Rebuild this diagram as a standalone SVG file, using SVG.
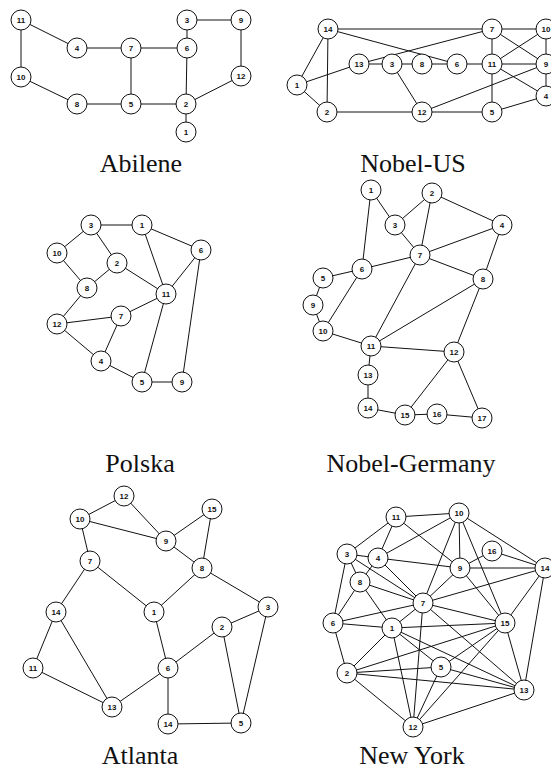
<svg xmlns="http://www.w3.org/2000/svg" width="551" height="772" viewBox="0 0 551 772">
<style>
.e line{stroke:#111;stroke-width:1}
.n circle{fill:#fff;stroke:#111;stroke-width:1}
.n text{font-family:"Liberation Sans",Arial,sans-serif;font-weight:bold;font-size:8px;text-anchor:middle;fill:#111}
.t{font-family:"Liberation Serif","Times New Roman",serif;font-size:26px;text-anchor:middle;fill:#111}
</style>
<rect width="551" height="772" fill="#fff"/>

<!-- Abilene -->
<g id="abilene-edges" class="e">
<line x1="21" y1="20" x2="77" y2="48"/>
<line x1="21" y1="20" x2="21" y2="77"/>
<line x1="21" y1="77" x2="77" y2="104"/>
<line x1="77" y1="104" x2="131" y2="104"/>
<line x1="77" y1="48" x2="131" y2="48"/>
<line x1="131" y1="48" x2="187" y2="48"/>
<line x1="131" y1="48" x2="131" y2="104"/>
<line x1="131" y1="104" x2="186" y2="104"/>
<line x1="187" y1="48" x2="186" y2="104"/>
<line x1="187" y1="48" x2="187" y2="20"/>
<line x1="187" y1="20" x2="241" y2="20"/>
<line x1="241" y1="20" x2="241" y2="76"/>
<line x1="241" y1="76" x2="186" y2="104"/>
<line x1="186" y1="104" x2="186" y2="132"/>
</g>
<g id="abilene-11" class="n" transform="translate(21,20)"><circle r="10"/><text y="3">11</text></g>
<g id="abilene-4" class="n" transform="translate(77,48)"><circle r="10"/><text y="3">4</text></g>
<g id="abilene-7" class="n" transform="translate(131,48)"><circle r="10"/><text y="3">7</text></g>
<g id="abilene-6" class="n" transform="translate(187,48)"><circle r="10"/><text y="3">6</text></g>
<g id="abilene-3" class="n" transform="translate(187,20)"><circle r="10"/><text y="3">3</text></g>
<g id="abilene-9" class="n" transform="translate(241,20)"><circle r="10"/><text y="3">9</text></g>
<g id="abilene-10" class="n" transform="translate(21,77)"><circle r="10"/><text y="3">10</text></g>
<g id="abilene-12" class="n" transform="translate(241,76)"><circle r="10"/><text y="3">12</text></g>
<g id="abilene-8" class="n" transform="translate(77,104)"><circle r="10"/><text y="3">8</text></g>
<g id="abilene-5" class="n" transform="translate(131,104)"><circle r="10"/><text y="3">5</text></g>
<g id="abilene-2" class="n" transform="translate(186,104)"><circle r="10"/><text y="3">2</text></g>
<g id="abilene-1" class="n" transform="translate(186,132)"><circle r="10"/><text y="3">1</text></g>
<text class="t" x="141" y="172">Abilene</text>

<!-- Nobel-US -->
<g id="nobelus-edges" class="e">
<line x1="328" y1="29" x2="492" y2="29"/>
<line x1="328" y1="29" x2="457" y2="64"/>
<line x1="328" y1="29" x2="297" y2="85"/>
<line x1="328" y1="29" x2="327" y2="112"/>
<line x1="297" y1="85" x2="327" y2="112"/>
<line x1="297" y1="85" x2="359" y2="64"/>
<line x1="359" y1="64" x2="492" y2="29"/>
<line x1="359" y1="64" x2="392" y2="64"/>
<line x1="392" y1="64" x2="422" y2="64"/>
<line x1="422" y1="64" x2="457" y2="64"/>
<line x1="457" y1="64" x2="492" y2="64"/>
<line x1="392" y1="64" x2="422" y2="112"/>
<line x1="327" y1="112" x2="422" y2="112"/>
<line x1="422" y1="112" x2="546" y2="64"/>
<line x1="422" y1="112" x2="492" y2="112"/>
<line x1="492" y1="112" x2="546" y2="96"/>
<line x1="492" y1="112" x2="492" y2="64"/>
<line x1="492" y1="29" x2="492" y2="64"/>
<line x1="492" y1="29" x2="546" y2="29"/>
<line x1="492" y1="29" x2="546" y2="64"/>
<line x1="492" y1="64" x2="546" y2="29"/>
<line x1="492" y1="64" x2="546" y2="64"/>
<line x1="492" y1="64" x2="546" y2="96"/>
<line x1="546" y1="29" x2="546" y2="64"/>
<line x1="546" y1="64" x2="546" y2="96"/>
</g>
<g id="nobelus-14" class="n" transform="translate(328,29)"><circle r="10"/><text y="3">14</text></g>
<g id="nobelus-7" class="n" transform="translate(492,29)"><circle r="10"/><text y="3">7</text></g>
<g id="nobelus-10" class="n" transform="translate(546,29)"><circle r="10"/><text y="3">10</text></g>
<g id="nobelus-13" class="n" transform="translate(359,64)"><circle r="10"/><text y="3">13</text></g>
<g id="nobelus-3" class="n" transform="translate(392,64)"><circle r="10"/><text y="3">3</text></g>
<g id="nobelus-8" class="n" transform="translate(422,64)"><circle r="10"/><text y="3">8</text></g>
<g id="nobelus-6" class="n" transform="translate(457,64)"><circle r="10"/><text y="3">6</text></g>
<g id="nobelus-11" class="n" transform="translate(492,64)"><circle r="10"/><text y="3">11</text></g>
<g id="nobelus-9" class="n" transform="translate(546,64)"><circle r="10"/><text y="3">9</text></g>
<g id="nobelus-1" class="n" transform="translate(297,85)"><circle r="10"/><text y="3">1</text></g>
<g id="nobelus-4" class="n" transform="translate(546,96)"><circle r="10"/><text y="3">4</text></g>
<g id="nobelus-2" class="n" transform="translate(327,112)"><circle r="10"/><text y="3">2</text></g>
<g id="nobelus-12" class="n" transform="translate(422,112)"><circle r="10"/><text y="3">12</text></g>
<g id="nobelus-5" class="n" transform="translate(492,112)"><circle r="10"/><text y="3">5</text></g>
<text class="t" x="413" y="172">Nobel-US</text>

<!-- Polska -->
<g id="polska-edges" class="e">
<line x1="91" y1="225" x2="142" y2="225"/>
<line x1="91" y1="225" x2="57" y2="253"/>
<line x1="91" y1="225" x2="117" y2="263"/>
<line x1="142" y1="225" x2="201" y2="250"/>
<line x1="142" y1="225" x2="166" y2="294"/>
<line x1="57" y1="253" x2="87" y2="288"/>
<line x1="117" y1="263" x2="87" y2="288"/>
<line x1="117" y1="263" x2="166" y2="294"/>
<line x1="201" y1="250" x2="166" y2="294"/>
<line x1="201" y1="250" x2="182" y2="382"/>
<line x1="87" y1="288" x2="57" y2="324"/>
<line x1="57" y1="324" x2="121" y2="316"/>
<line x1="121" y1="316" x2="166" y2="294"/>
<line x1="121" y1="316" x2="101" y2="361"/>
<line x1="57" y1="324" x2="101" y2="361"/>
<line x1="101" y1="361" x2="142" y2="382"/>
<line x1="142" y1="382" x2="182" y2="382"/>
<line x1="166" y1="294" x2="142" y2="382"/>
</g>
<g id="polska-3" class="n" transform="translate(91,225)"><circle r="10"/><text y="3">3</text></g>
<g id="polska-1" class="n" transform="translate(142,225)"><circle r="10"/><text y="3">1</text></g>
<g id="polska-10" class="n" transform="translate(57,253)"><circle r="10"/><text y="3">10</text></g>
<g id="polska-6" class="n" transform="translate(201,250)"><circle r="10"/><text y="3">6</text></g>
<g id="polska-2" class="n" transform="translate(117,263)"><circle r="10"/><text y="3">2</text></g>
<g id="polska-8" class="n" transform="translate(87,288)"><circle r="10"/><text y="3">8</text></g>
<g id="polska-11" class="n" transform="translate(166,294)"><circle r="10"/><text y="3">11</text></g>
<g id="polska-7" class="n" transform="translate(121,316)"><circle r="10"/><text y="3">7</text></g>
<g id="polska-12" class="n" transform="translate(57,324)"><circle r="10"/><text y="3">12</text></g>
<g id="polska-4" class="n" transform="translate(101,361)"><circle r="10"/><text y="3">4</text></g>
<g id="polska-5" class="n" transform="translate(142,382)"><circle r="10"/><text y="3">5</text></g>
<g id="polska-9" class="n" transform="translate(182,382)"><circle r="10"/><text y="3">9</text></g>
<text class="t" x="140" y="472">Polska</text>

<!-- Nobel-Germany -->
<g id="nobelgermany-edges" class="e">
<line x1="371" y1="190" x2="395" y2="225"/>
<line x1="371" y1="190" x2="362" y2="269"/>
<line x1="432" y1="193" x2="395" y2="225"/>
<line x1="432" y1="193" x2="420" y2="255"/>
<line x1="432" y1="193" x2="502" y2="225"/>
<line x1="395" y1="225" x2="420" y2="255"/>
<line x1="502" y1="225" x2="420" y2="255"/>
<line x1="502" y1="225" x2="483" y2="279"/>
<line x1="420" y1="255" x2="362" y2="269"/>
<line x1="420" y1="255" x2="483" y2="279"/>
<line x1="420" y1="255" x2="371" y2="346"/>
<line x1="362" y1="269" x2="323" y2="278"/>
<line x1="362" y1="269" x2="323" y2="331"/>
<line x1="323" y1="278" x2="313" y2="305"/>
<line x1="313" y1="305" x2="323" y2="331"/>
<line x1="323" y1="331" x2="371" y2="346"/>
<line x1="371" y1="346" x2="483" y2="279"/>
<line x1="371" y1="346" x2="454" y2="352"/>
<line x1="371" y1="346" x2="368" y2="375"/>
<line x1="483" y1="279" x2="454" y2="352"/>
<line x1="454" y1="352" x2="405" y2="415"/>
<line x1="454" y1="352" x2="482" y2="418"/>
<line x1="368" y1="375" x2="368" y2="408"/>
<line x1="368" y1="408" x2="405" y2="415"/>
<line x1="405" y1="415" x2="437" y2="414"/>
<line x1="437" y1="414" x2="482" y2="418"/>
</g>
<g id="nobelgermany-1" class="n" transform="translate(371,190)"><circle r="10"/><text y="3">1</text></g>
<g id="nobelgermany-2" class="n" transform="translate(432,193)"><circle r="10"/><text y="3">2</text></g>
<g id="nobelgermany-3" class="n" transform="translate(395,225)"><circle r="10"/><text y="3">3</text></g>
<g id="nobelgermany-4" class="n" transform="translate(502,225)"><circle r="10"/><text y="3">4</text></g>
<g id="nobelgermany-7" class="n" transform="translate(420,255)"><circle r="10"/><text y="3">7</text></g>
<g id="nobelgermany-6" class="n" transform="translate(362,269)"><circle r="10"/><text y="3">6</text></g>
<g id="nobelgermany-5" class="n" transform="translate(323,278)"><circle r="10"/><text y="3">5</text></g>
<g id="nobelgermany-8" class="n" transform="translate(483,279)"><circle r="10"/><text y="3">8</text></g>
<g id="nobelgermany-9" class="n" transform="translate(313,305)"><circle r="10"/><text y="3">9</text></g>
<g id="nobelgermany-10" class="n" transform="translate(323,331)"><circle r="10"/><text y="3">10</text></g>
<g id="nobelgermany-11" class="n" transform="translate(371,346)"><circle r="10"/><text y="3">11</text></g>
<g id="nobelgermany-12" class="n" transform="translate(454,352)"><circle r="10"/><text y="3">12</text></g>
<g id="nobelgermany-13" class="n" transform="translate(368,375)"><circle r="10"/><text y="3">13</text></g>
<g id="nobelgermany-14" class="n" transform="translate(368,408)"><circle r="10"/><text y="3">14</text></g>
<g id="nobelgermany-15" class="n" transform="translate(405,415)"><circle r="10"/><text y="3">15</text></g>
<g id="nobelgermany-16" class="n" transform="translate(437,414)"><circle r="10"/><text y="3">16</text></g>
<g id="nobelgermany-17" class="n" transform="translate(482,418)"><circle r="10"/><text y="3">17</text></g>
<text class="t" x="411" y="472">Nobel-Germany</text>

<!-- Atlanta -->
<g id="atlanta-edges" class="e">
<line x1="124" y1="496" x2="80" y2="519"/>
<line x1="124" y1="496" x2="166" y2="541"/>
<line x1="80" y1="519" x2="166" y2="541"/>
<line x1="80" y1="519" x2="90" y2="561"/>
<line x1="212" y1="509" x2="166" y2="541"/>
<line x1="212" y1="509" x2="202" y2="568"/>
<line x1="166" y1="541" x2="202" y2="568"/>
<line x1="90" y1="561" x2="56" y2="612"/>
<line x1="90" y1="561" x2="154" y2="612"/>
<line x1="202" y1="568" x2="154" y2="612"/>
<line x1="202" y1="568" x2="268" y2="607"/>
<line x1="268" y1="607" x2="222" y2="627"/>
<line x1="268" y1="607" x2="241" y2="723"/>
<line x1="222" y1="627" x2="168" y2="668"/>
<line x1="222" y1="627" x2="241" y2="723"/>
<line x1="154" y1="612" x2="168" y2="668"/>
<line x1="56" y1="612" x2="33" y2="668"/>
<line x1="56" y1="612" x2="112" y2="707"/>
<line x1="33" y1="668" x2="112" y2="707"/>
<line x1="112" y1="707" x2="168" y2="668"/>
<line x1="168" y1="668" x2="168" y2="724"/>
<line x1="168" y1="724" x2="241" y2="723"/>
</g>
<g id="atlanta-12" class="n" transform="translate(124,496)"><circle r="10"/><text y="3">12</text></g>
<g id="atlanta-15" class="n" transform="translate(212,509)"><circle r="10"/><text y="3">15</text></g>
<g id="atlanta-10" class="n" transform="translate(80,519)"><circle r="10"/><text y="3">10</text></g>
<g id="atlanta-9" class="n" transform="translate(166,541)"><circle r="10"/><text y="3">9</text></g>
<g id="atlanta-7" class="n" transform="translate(90,561)"><circle r="10"/><text y="3">7</text></g>
<g id="atlanta-8" class="n" transform="translate(202,568)"><circle r="10"/><text y="3">8</text></g>
<g id="atlanta-14a" class="n" transform="translate(56,612)"><circle r="10"/><text y="3">14</text></g>
<g id="atlanta-1" class="n" transform="translate(154,612)"><circle r="10"/><text y="3">1</text></g>
<g id="atlanta-3" class="n" transform="translate(268,607)"><circle r="10"/><text y="3">3</text></g>
<g id="atlanta-2" class="n" transform="translate(222,627)"><circle r="10"/><text y="3">2</text></g>
<g id="atlanta-11" class="n" transform="translate(33,668)"><circle r="10"/><text y="3">11</text></g>
<g id="atlanta-6" class="n" transform="translate(168,668)"><circle r="10"/><text y="3">6</text></g>
<g id="atlanta-13" class="n" transform="translate(112,707)"><circle r="10"/><text y="3">13</text></g>
<g id="atlanta-14b" class="n" transform="translate(168,724)"><circle r="10"/><text y="3">14</text></g>
<g id="atlanta-5" class="n" transform="translate(241,723)"><circle r="10"/><text y="3">5</text></g>
<text class="t" x="140" y="764">Atlanta</text>

<!-- New York -->
<g id="newyork-edges" class="e">
<line x1="396" y1="517" x2="459" y2="513"/>
<line x1="396" y1="517" x2="347" y2="554"/>
<line x1="396" y1="517" x2="378" y2="558"/>
<line x1="396" y1="517" x2="460" y2="568"/>
<line x1="347" y1="554" x2="378" y2="558"/>
<line x1="347" y1="554" x2="333" y2="623"/>
<line x1="347" y1="554" x2="360" y2="582"/>
<line x1="347" y1="554" x2="423" y2="603"/>
<line x1="378" y1="558" x2="459" y2="513"/>
<line x1="378" y1="558" x2="460" y2="568"/>
<line x1="378" y1="558" x2="423" y2="603"/>
<line x1="378" y1="558" x2="360" y2="582"/>
<line x1="360" y1="582" x2="423" y2="603"/>
<line x1="360" y1="582" x2="333" y2="623"/>
<line x1="360" y1="582" x2="392" y2="628"/>
<line x1="333" y1="623" x2="423" y2="603"/>
<line x1="333" y1="623" x2="392" y2="628"/>
<line x1="333" y1="623" x2="347" y2="673"/>
<line x1="423" y1="603" x2="392" y2="628"/>
<line x1="423" y1="603" x2="413" y2="727"/>
<line x1="423" y1="603" x2="459" y2="513"/>
<line x1="423" y1="603" x2="460" y2="568"/>
<line x1="423" y1="603" x2="545" y2="568"/>
<line x1="423" y1="603" x2="505" y2="623"/>
<line x1="423" y1="603" x2="524" y2="690"/>
<line x1="459" y1="513" x2="460" y2="568"/>
<line x1="459" y1="513" x2="505" y2="623"/>
<line x1="459" y1="513" x2="545" y2="568"/>
<line x1="460" y1="568" x2="492" y2="551"/>
<line x1="492" y1="551" x2="545" y2="568"/>
<line x1="460" y1="568" x2="545" y2="568"/>
<line x1="460" y1="568" x2="505" y2="623"/>
<line x1="392" y1="628" x2="505" y2="623"/>
<line x1="392" y1="628" x2="347" y2="673"/>
<line x1="392" y1="628" x2="441" y2="667"/>
<line x1="392" y1="628" x2="413" y2="727"/>
<line x1="392" y1="628" x2="524" y2="690"/>
<line x1="347" y1="673" x2="505" y2="623"/>
<line x1="347" y1="673" x2="441" y2="667"/>
<line x1="347" y1="673" x2="524" y2="690"/>
<line x1="347" y1="673" x2="413" y2="727"/>
<line x1="441" y1="667" x2="505" y2="623"/>
<line x1="441" y1="667" x2="524" y2="690"/>
<line x1="441" y1="667" x2="413" y2="727"/>
<line x1="505" y1="623" x2="413" y2="727"/>
<line x1="505" y1="623" x2="524" y2="690"/>
<line x1="505" y1="623" x2="545" y2="568"/>
<line x1="545" y1="568" x2="524" y2="690"/>
<line x1="413" y1="727" x2="524" y2="690"/>
</g>
<g id="newyork-11" class="n" transform="translate(396,517)"><circle r="10"/><text y="3">11</text></g>
<g id="newyork-10" class="n" transform="translate(459,513)"><circle r="10"/><text y="3">10</text></g>
<g id="newyork-3" class="n" transform="translate(347,554)"><circle r="10"/><text y="3">3</text></g>
<g id="newyork-4" class="n" transform="translate(378,558)"><circle r="10"/><text y="3">4</text></g>
<g id="newyork-16" class="n" transform="translate(492,551)"><circle r="10"/><text y="3">16</text></g>
<g id="newyork-9" class="n" transform="translate(460,568)"><circle r="10"/><text y="3">9</text></g>
<g id="newyork-14" class="n" transform="translate(545,568)"><circle r="10"/><text y="3">14</text></g>
<g id="newyork-8" class="n" transform="translate(360,582)"><circle r="10"/><text y="3">8</text></g>
<g id="newyork-7" class="n" transform="translate(423,603)"><circle r="10"/><text y="3">7</text></g>
<g id="newyork-6" class="n" transform="translate(333,623)"><circle r="10"/><text y="3">6</text></g>
<g id="newyork-1" class="n" transform="translate(392,628)"><circle r="10"/><text y="3">1</text></g>
<g id="newyork-15" class="n" transform="translate(505,623)"><circle r="10"/><text y="3">15</text></g>
<g id="newyork-5" class="n" transform="translate(441,667)"><circle r="10"/><text y="3">5</text></g>
<g id="newyork-2" class="n" transform="translate(347,673)"><circle r="10"/><text y="3">2</text></g>
<g id="newyork-13" class="n" transform="translate(524,690)"><circle r="10"/><text y="3">13</text></g>
<g id="newyork-12" class="n" transform="translate(413,727)"><circle r="10"/><text y="3">12</text></g>
<text class="t" x="412" y="764">New York</text>
</svg>
